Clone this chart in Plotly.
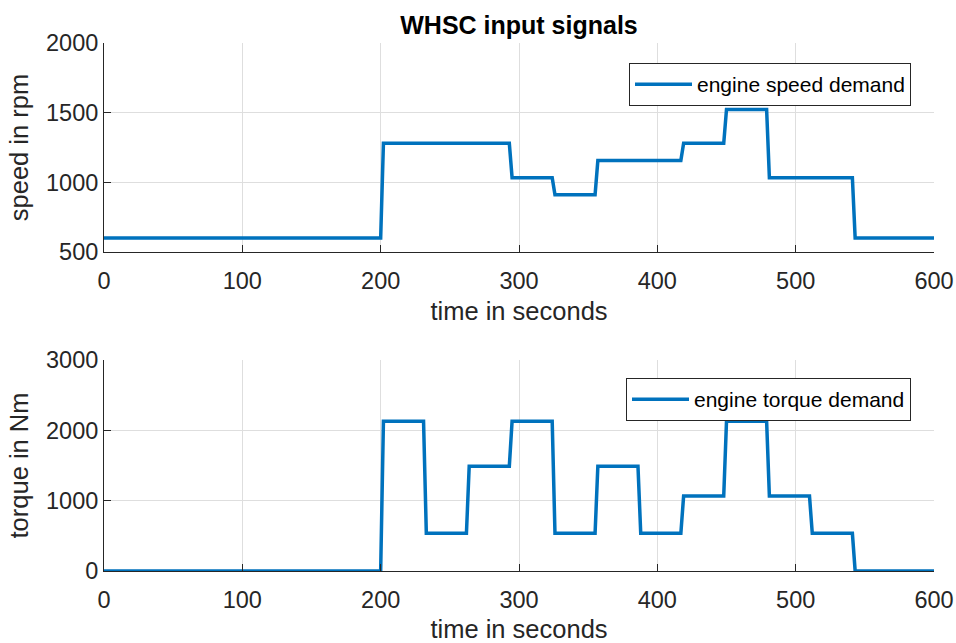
import plotly.graph_objects as go

# WHSC steady-state modes: start time of each mode (s) and its demand levels
mode_start = [0, 200, 231, 262, 293, 324, 355, 386, 417, 448, 479, 510, 541]
speed_rpm = [600, 1280, 1280, 1280, 1033, 910, 1156, 1156, 1280, 1523, 1033, 1033, 600]
torque_nm = [0, 2128, 535, 1490, 2128, 535, 1490, 535, 1065, 2128, 1065, 535, 0]
t_end = 600
ramp_s = 2  # linear transition time between modes

x_ticks = [0, 100, 200, 300, 400, 500, 600]
speed_ticks = [500, 1000, 1500, 2000]
torque_ticks = [0, 1000, 2000, 3000]


def stepped(levels):
    """Hold each mode level, ramping over ramp_s seconds into the next one."""
    xs, ys = [], []
    for i, v in enumerate(levels):
        start = mode_start[i] + (ramp_s if i > 0 else 0)
        stop = mode_start[i + 1] if i + 1 < len(mode_start) else t_end
        xs += [start, stop]
        ys += [v, v]
    return xs, ys


FONT = "Liberation Sans, Arial, Helvetica, sans-serif"
INK = "#262626"
BLUE = "#0072BD"
GRID = "#dedede"

W, H = 956, 643
x0, x1 = 104 / W, 934 / W
top_dom = [1 - 252 / H, 1 - 43 / H]
bot_dom = [1 - 571 / H, 1 - 360 / H]

fig = go.Figure()

sx, sy = stepped(speed_rpm)
tx, ty = stepped(torque_nm)

fig.add_trace(go.Scatter(x=sx, y=sy, mode="lines", name="engine speed demand",
                         line=dict(color=BLUE, width=3.5),
                         xaxis="x", yaxis="y", legend="legend"))
fig.add_trace(go.Scatter(x=tx, y=ty, mode="lines", name="engine torque demand",
                         line=dict(color=BLUE, width=3.5),
                         xaxis="x2", yaxis="y2", legend="legend2"))

axis_common = dict(
    showgrid=True, gridcolor=GRID, gridwidth=1,
    showline=True, linecolor=INK, linewidth=1, mirror=False,
    ticks="inside", ticklen=7, tickcolor=INK, tickwidth=1,
    tickfont=dict(family=FONT, size=23.5, color=INK),
    zeroline=False, automargin=False,
)
x_common = dict(axis_common, ticklabelstandoff=8)
label_font = dict(family=FONT, size=25.5, color=INK)

legend_common = dict(x=911 / W, xanchor="right", yanchor="top",
                     bgcolor="white", bordercolor=INK, borderwidth=1,
                     itemwidth=57,
                     font=dict(family=FONT, size=21, color="black"))

fig.update_layout(
    width=W, height=H,
    margin=dict(l=0, r=0, t=0, b=0, autoexpand=False),
    paper_bgcolor="white", plot_bgcolor="white",
    showlegend=True,
    title=dict(text="<b>WHSC input signals</b>", x=(x0 + x1) / 2, xanchor="center",
               y=1 - 25 / H, yanchor="middle", automargin=False,
               font=dict(family=FONT, size=25, color="black")),
    xaxis=dict(domain=[x0, x1], range=[0, 600], tickvals=x_ticks, anchor="y",
               title=dict(text="time in seconds", standoff=8, font=label_font),
               **x_common),
    yaxis=dict(domain=top_dom, range=[500, 2000], tickvals=speed_ticks, anchor="x",
               title=dict(text="speed in rpm", standoff=10, font=label_font),
               **axis_common),
    xaxis2=dict(domain=[x0, x1], range=[0, 600], tickvals=x_ticks, anchor="y2",
                title=dict(text="time in seconds", standoff=8, font=label_font),
                **x_common),
    yaxis2=dict(domain=bot_dom, range=[0, 3000], tickvals=torque_ticks, anchor="x2",
                title=dict(text="torque in Nm", standoff=10, font=label_font),
                **axis_common),
    legend=dict(legend_common, y=1 - 63 / H),
    legend2=dict(legend_common, y=1 - 378 / H),
)

fig.write_html("out.html")
